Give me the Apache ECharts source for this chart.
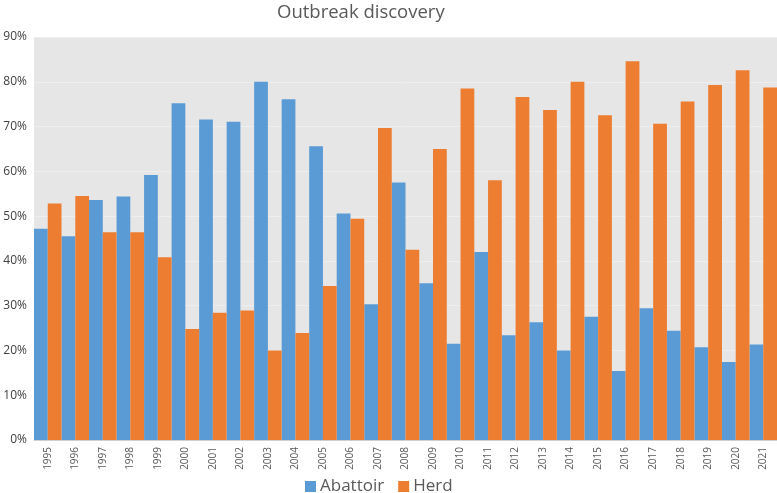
<!DOCTYPE html>
<html><head><meta charset="utf-8">
<script src="https://cdn.jsdelivr.net/npm/echarts@6/dist/echarts.min.js"></script>
<style>html,body{margin:0;padding:0;background:#fff}#c{width:777px;height:493px}</style>
</head><body><div id="c"></div>
<script>
const years = ['1995','1996','1997','1998','1999','2000','2001','2002','2003','2004','2005','2006','2007','2008','2009','2010','2011','2012','2013','2014','2015','2016','2017','2018','2019','2020','2021'];
const abattoir = [47.2,45.5,53.6,54.4,59.2,75.2,71.6,71.1,80.0,76.1,65.6,50.6,30.3,57.5,35.0,21.5,42.0,23.4,26.3,20.0,27.5,15.4,29.4,24.4,20.7,17.4,21.3];
const herd = [52.8,54.5,46.4,46.4,40.8,24.8,28.4,28.9,20.0,23.9,34.4,49.4,69.7,42.5,65.0,78.5,58.0,76.6,73.7,80.0,72.5,84.6,70.6,75.6,79.3,82.6,78.7];
const yTicks = [0,10,20,30,40,50,60,70,80,90];

const chart = echarts.init(document.getElementById('c'));
chart.setOption({
  animation: false,
  title: { text: 'Outbreak discovery', left: 272, top: -2,
    textStyle: { fontFamily: 'Open Sans', fontSize: 18.5, fontWeight: 'normal', color: '#595959' } },
  legend: { top: 478, left: 305, padding: 0, itemWidth: 11, itemHeight: 11, itemGap: 14,
    icon: 'rect',
    textStyle: { fontFamily: 'Open Sans', fontSize: 17, color: '#595959', padding: [0,0,0,-1] },
    data: ['Abattoir','Herd'] },
  grid: { left: 34, right: 0, top: 37, bottom: 53, show: true, backgroundColor: '#e6e6e6', borderWidth: 0 },
  xAxis: { type: 'category', data: years,
    axisLine: { show: true, lineStyle: { color: '#d0d0d0' } },
    axisTick: { show: false },
    axisLabel: { rotate: 90, fontFamily: 'Open Sans', fontSize: 10, color: '#595959', margin: 7 } },
  yAxis: { type: 'value', min: 0, max: 90, interval: 10,
    axisLine: { show: false }, axisTick: { show: false },
    splitLine: { lineStyle: { color: '#eeeeee' } },
    axisLabel: { formatter: v => yTicks.includes(v) ? v + '%' : '', fontFamily: 'Open Sans', fontSize: 12, color: '#404040', margin: 7 } },
  series: [
    { name: 'Abattoir', type: 'bar', data: abattoir, barGap: '0%', barCategoryGap: '0%', itemStyle: { color: '#5b9bd5' } },
    { name: 'Herd', type: 'bar', data: herd, barGap: '0%', barCategoryGap: '0%', itemStyle: { color: '#ed7d31' } }
  ]
});
</script></body></html>
